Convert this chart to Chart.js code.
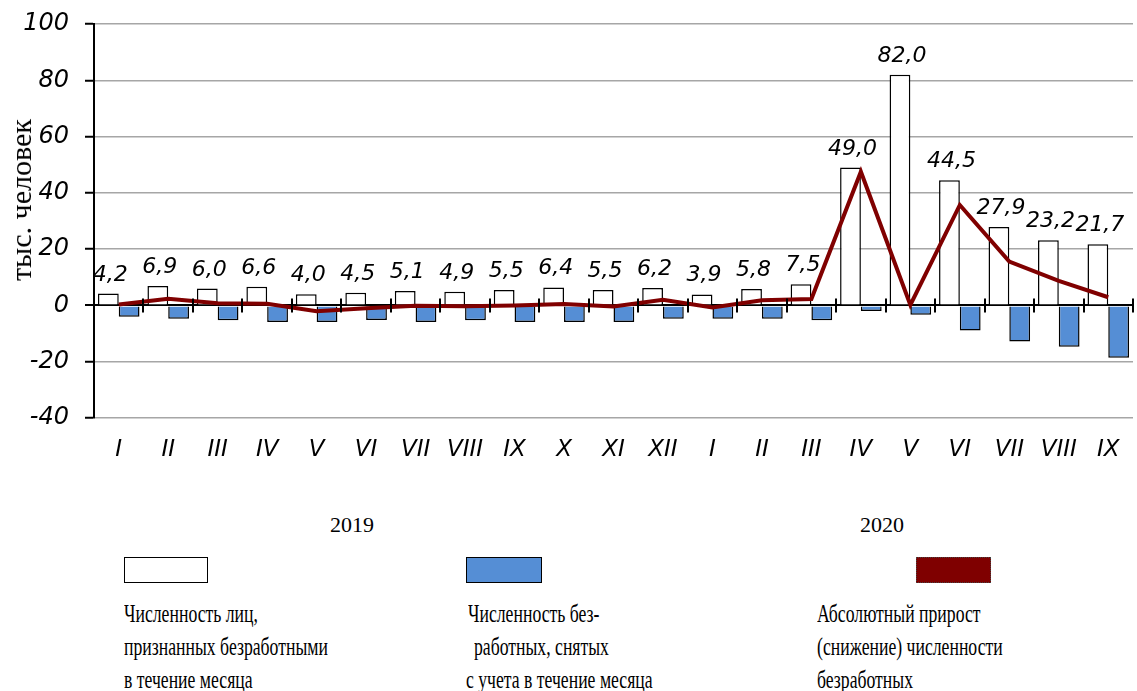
<!DOCTYPE html>
<html>
<head>
<meta charset="utf-8">
<script src="https://cdn.jsdelivr.net/npm/chart.js@4.4.0/dist/chart.umd.min.js"></script>
<style>
    body { margin: 0; background: #fff; width: 1137px; height: 691px; position: relative; overflow: hidden; font-family: "Liberation Serif", "Times New Roman", serif; }
    #wrap { position: absolute; left: 0; top: 0; width: 1137px; height: 475px; }
    .txt { position: absolute; font-size: 26px; line-height: 26px; color: #000; white-space: nowrap; transform-origin: 0 50%; transform: scaleX(0.68); }
    .yr { position: absolute; font-size: 22px; line-height: 22px; color: #000; }
    .box { position: absolute; height: 26px; box-sizing: border-box; }
    #ytitle { position: absolute; left: 21px; top: 200px; font-size: 30px; line-height: 30px; white-space: nowrap; transform: translate(-50%, -50%) rotate(-90deg); }
</style>
</head>
<body>
<div id="wrap"><canvas id="chart"></canvas></div>
<div id="ytitle">тыс. человек</div>

<div class="yr" style="left:330px; top:514px;">2019</div>
<div class="yr" style="left:860px; top:514px;">2020</div>

<div class="box" style="left:124px; top:557px; width:84px; border:1.5px solid #000; background:#fff;"></div>
<div class="box" style="left:466px; top:557px; width:76px; border:1.5px solid #000; background:#558ed5;"></div>
<div class="box" style="left:916px; top:557px; width:75px; border:1.5px dotted #444; background:#7f0000;"></div>

<div class="txt" style="left:124px; top:601px;">Численность лиц,</div>
<div class="txt" style="left:124px; top:634px;">признанных безработными</div>
<div class="txt" style="left:124px; top:667px;">в течение месяца</div>

<div class="txt" style="left:468px; top:601px;">Численность без-</div>
<div class="txt" style="left:474px; top:634px;">работных, снятых</div>
<div class="txt" style="left:466px; top:667px;">с учета в течение месяца</div>

<div class="txt" style="left:817px; top:601px;">Абсолютный прирост</div>
<div class="txt" style="left:817px; top:634px;">(снижение) численности</div>
<div class="txt" style="left:817px; top:667px;">безработных</div>

<script>
// ─── Data: 2019 I–XII, 2020 I–IX ───
const months = ['I', 'II', 'III', 'IV', 'V', 'VI', 'VII', 'VIII', 'IX', 'X', 'XI', 'XII',
                'I', 'II', 'III', 'IV', 'V', 'VI', 'VII', 'VIII', 'IX'];
const registered = [4.2, 6.9, 6.0, 6.6, 4.0, 4.5, 5.1, 4.9, 5.5, 6.4, 5.5, 6.2,
                    3.9, 5.8, 7.5, 49.0, 82.0, 44.5, 27.9, 23.2, 21.7];
const removed = [-4.0, -4.7, -5.3, -5.9, -5.9, -5.2, -5.9, -5.3, -5.9, -5.9, -5.9, -4.7,
                 -4.7, -4.7, -5.3, -2.0, -3.3, -8.9, -12.8, -14.7, -18.6];
const netChange = [0.3, 2.4, 0.8, 0.6, -2.1, -1.0, -0.1, -0.3, 0.0, 0.5, -0.4, 2.0,
                   -0.7, 1.8, 2.3, 47.5, 0.2, 35.7, 15.6, 8.7, 2.9];
const yTicks = [-40, -20, 0, 20, 40, 60, 80, 100];

const SANS = '"DejaVu Sans", Verdana, sans-serif';

// value labels above the white bars
const valueLabels = {
    id: 'valueLabels',
    afterDatasetsDraw(chart) {
        const ctx = chart.ctx;
        const meta = chart.getDatasetMeta(0);
        ctx.save();
        ctx.font = 'italic 22px ' + SANS;
        ctx.fillStyle = '#000';
        ctx.textAlign = 'center';
        ctx.textBaseline = 'alphabetic';
        meta.data.forEach((bar, i) => {
            const txt = registered[i].toFixed(1).replace('.', ',');
            ctx.fillText(txt, bar.x + 2, bar.y - 13);
        });
        ctx.restore();
    }
};

// short ticks across the zero line at the category boundaries
const zeroTicks = {
    id: 'zeroTicks',
    afterDatasetsDraw(chart) {
        const ctx = chart.ctx;
        const area = chart.chartArea;
        const y0 = chart.scales.y.getPixelForValue(0);
        const step = area.width / months.length;
        ctx.save();
        ctx.strokeStyle = '#000';
        ctx.lineWidth = 2;
        ctx.beginPath();
        for (let i = 1; i <= months.length; i++) {
            const x = Math.round(area.left + i * step);
            ctx.moveTo(x, y0 - 7);
            ctx.lineTo(x, y0 + 7);
        }
        ctx.stroke();
        ctx.restore();
    }
};

new Chart(document.getElementById('chart'), {
    type: 'bar',
    data: {
        labels: months,
        datasets: [
            {
                label: 'Численность лиц, признанных безработными в течение месяца',
                data: registered,
                backgroundColor: '#ffffff',
                borderColor: '#000000',
                borderWidth: 1.5,
                order: 2
            },
            {
                label: 'Численность безработных, снятых с учета в течение месяца',
                data: removed,
                backgroundColor: '#558ed5',
                borderColor: '#000000',
                borderWidth: 1.5,
                order: 2
            },
            {
                type: 'line',
                label: 'Абсолютный прирост (снижение) численности безработных',
                data: netChange,
                borderColor: '#800000',
                borderWidth: 4,
                pointRadius: 0,
                tension: 0,
                order: 1
            }
        ]
    },
    options: {
        responsive: true, maintainAspectRatio: false,
        animation: false,
        categoryPercentage: 0.84,
        barPercentage: 1.0,
        layout: { padding: { top: 24, right: 4, left: 0, bottom: 0 } },
        plugins: { legend: { display: false }, tooltip: { enabled: false } },
        scales: {
            x: {
                grid: { display: false, drawTicks: false },
                border: { display: false },
                ticks: { color: '#000', font: { family: SANS, size: 23, style: 'italic' }, padding: 18, maxRotation: 0, autoSkip: false },
                afterFit: s => { s.height = 57; s.paddingLeft = 0; s.paddingRight = 0; }
            },
            y: {
                min: -40, max: 100,
                afterBuildTicks: s => { s.ticks = yTicks.map(v => ({ value: v })); },
                grid: {
                    color: c => (c.tick && c.tick.value === 0) ? '#000' : '#a6a6a6',
                    lineWidth: c => (c.tick && c.tick.value === 0) ? 2 : 1.5,
                    tickColor: '#000',
                    tickLength: 9,
                    tickWidth: 2
                },
                border: { display: true, color: '#000', width: 2 },
                ticks: { color: '#000', font: { family: SANS, size: 24, style: 'italic' }, padding: 16 },
                afterFit: s => { s.width = 94; s.paddingTop = 0; s.paddingBottom = 0; }
            }
        }
    },
    plugins: [valueLabels, zeroTicks]
});
</script>
</body>
</html>
